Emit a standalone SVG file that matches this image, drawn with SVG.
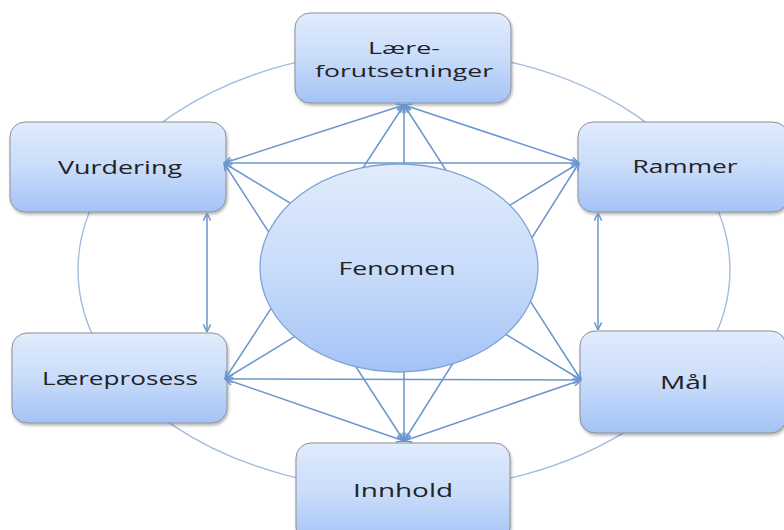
<svg xmlns="http://www.w3.org/2000/svg" width="784" height="530" viewBox="0 0 784 530">
<defs>
<linearGradient id="g" x1="0" y1="0" x2="0" y2="1">
<stop offset="0" stop-color="#e1ecfc"/>
<stop offset="0.5" stop-color="#c9dcfa"/>
<stop offset="1" stop-color="#a3c3f6"/>
</linearGradient>
<filter id="sh" x="-10%" y="-10%" width="125%" height="130%">
<feDropShadow dx="1" dy="2" stdDeviation="1.5" flood-color="#000" flood-opacity="0.3"/>
</filter>
<marker id="a" viewBox="0 0 10 10" refX="9.5" refY="5" markerWidth="9" markerHeight="9" markerUnits="userSpaceOnUse" orient="auto-start-reverse">
<path d="M1,1 L9.5,5 L1,9" fill="none" stroke="#6a96cd" stroke-width="1.6"/>
</marker>
<style>
.box{fill:url(#g);stroke:#8d8f94;stroke-width:1;filter:url(#sh)}
.ell{fill:url(#g);stroke:#7fa2d4;stroke-width:1.3}
.ring{fill:none;stroke:#a3bde0;stroke-width:1.4}
.c{stroke:#6a96cd;stroke-width:1.5;fill:none;marker-start:url(#a);marker-end:url(#a)}
.t{font-family:"Open Sans","DejaVu Sans",sans-serif;font-size:19px;fill:#222;text-anchor:middle}
.s{font-size:17px}
</style>
</defs>
<rect width="784" height="530" fill="#fff"/>
<g id="ring"><ellipse class="ring" cx="404" cy="270" rx="326" ry="220"/></g>
<g id="laereforutsetninger"><rect class="box" x="295" y="13" width="216" height="90" rx="15"/>
<text class="t s" x="404" y="54" textLength="72" lengthAdjust="spacingAndGlyphs">Lære-</text>
<text class="t s" x="404" y="77" textLength="178" lengthAdjust="spacingAndGlyphs">forutsetninger</text></g>
<g id="vurdering"><rect class="box" x="10" y="122" width="216" height="90" rx="15"/>
<text class="t" x="120" y="174" textLength="124" lengthAdjust="spacingAndGlyphs">Vurdering</text></g>
<g id="rammer"><rect class="box" x="578" y="122" width="210" height="90" rx="15"/>
<text class="t" x="685" y="173" textLength="105" lengthAdjust="spacingAndGlyphs">Rammer</text></g>
<g id="laereprosess"><rect class="box" x="12" y="333" width="215" height="90" rx="15"/>
<text class="t" x="120" y="385" textLength="156" lengthAdjust="spacingAndGlyphs">Læreprosess</text></g>
<g id="maal"><rect class="box" x="580" y="331" width="206" height="102" rx="15"/>
<text class="t" x="684" y="389" textLength="48" lengthAdjust="spacingAndGlyphs">Mål</text></g>
<g id="innhold"><rect class="box" x="296" y="443" width="214" height="100" rx="15"/>
<text class="t" x="403" y="497" textLength="100" lengthAdjust="spacingAndGlyphs">Innhold</text></g>
<g id="connectors">
<line class="c" x1="404" y1="105" x2="224" y2="163"/>
<line class="c" x1="404" y1="105" x2="579" y2="163"/>
<line class="c" x1="404" y1="105" x2="225" y2="379"/>
<line class="c" x1="404" y1="105" x2="404" y2="441"/>
<line class="c" x1="404" y1="105" x2="581" y2="380"/>
<line class="c" x1="224" y1="163" x2="579" y2="163"/>
<line class="c" x1="224" y1="163" x2="581" y2="380"/>
<line class="c" x1="224" y1="163" x2="404" y2="441"/>
<line class="c" x1="579" y1="163" x2="225" y2="379"/>
<line class="c" x1="579" y1="163" x2="404" y2="441"/>
<line class="c" x1="225" y1="379" x2="581" y2="380"/>
<line class="c" x1="225" y1="379" x2="404" y2="441"/>
<line class="c" x1="581" y1="380" x2="404" y2="441"/>
<line class="c" x1="207" y1="213" x2="207" y2="332"/>
<line class="c" x1="598" y1="213" x2="598" y2="330"/>
</g>
<g id="fenomen"><ellipse class="ell" cx="399" cy="268" rx="139" ry="104"/>
<text class="t" x="397" y="275" textLength="117" lengthAdjust="spacingAndGlyphs">Fenomen</text></g>
</svg>
